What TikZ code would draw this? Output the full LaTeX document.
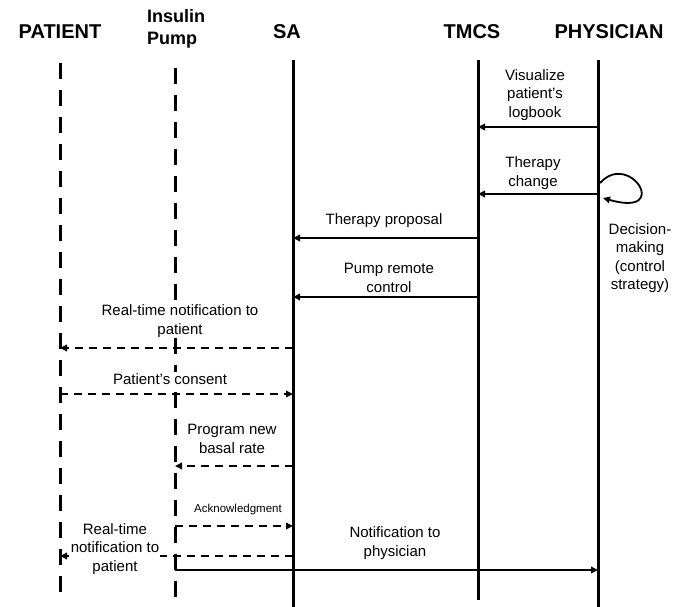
\documentclass[tikz,border=0pt]{standalone}
\usepackage{fontspec}
\setmainfont{Liberation Sans}
\usetikzlibrary{positioning,arrows.meta}

\tikzset{
  head/.style={font=\fontsize{20}{22}\selectfont\bfseries, align=center, inner sep=1pt},
  lbl/.style={font=\fontsize{15}{18.5}\selectfont, align=center, fill=white, inner sep=1pt},
  life/.style={line width=3pt},
  dlife/.style={life, dash pattern=on 16pt off 11pt},
  msg/.style={->, line width=1.8pt},
  dmsg/.style={msg, dash pattern=on 8pt off 6pt}
}

\begin{document}
\begin{tikzpicture}[x=1pt, y=-1pt, >={Triangle[length=7pt,width=6.5pt]}]
\useasboundingbox (0,0) rectangle (686,607);

% lifeline heads
\node [head] (patient) at (60,32) {PATIENT};
\node [head, align=left, font=\fontsize{18}{22}\selectfont\bfseries] (pump) at (176,29) {Insulin\\Pump};
\node [head] (sa) at (287,32) {SA};
\node [head] (tmcs) at (472,32) {TMCS};
\node [head] (phys) at (609,32) {PHYSICIAN};

% lifelines
\foreach \n/\x/\t/\b in {patient/60/63/603, pump/175/68/598, sa/293/60/607, tmcs/478/60/600, phys/598/60/607} {
  \coordinate (\n-top) at (\x,\t);
  \coordinate (\n-bot) at (\x,\b);
}
\draw [dlife] (patient-top) -- (patient-bot);
\draw [dlife] (pump-top) -- (pump-bot);
\foreach \n in {sa,tmcs,phys}
  \draw [life] (\n-top) -- (\n-bot);

% messages
\foreach \a/\b/\y/\s in {phys/tmcs/127/msg, phys/tmcs/194/msg, tmcs/sa/238/msg,
    tmcs/sa/297/msg, sa/patient/348/dmsg, patient/sa/394/dmsg, sa/pump/466/dmsg,
    pump/sa/526/dmsg, sa/patient/556/dmsg, pump/phys/570/msg}
  \draw [\s] (\a-top |- 0,\y) -- (\b-top |- 0,\y);

% self call
\coordinate (loop-a) at (600,183);
\coordinate (loop-b) at (603,198);
\draw [msg] (loop-a) .. controls (630,150) and (672,218) .. (loop-b);

% labels
\node [lbl] (visualize) at (535,95) {Visualize\\patient’s\\logbook};
\node [lbl] (change) at (533,173) {Therapy\\change};
\node [lbl] (decision) at (640,258) {Decision-\\making\\(control\\strategy)};
\node [lbl] (proposal) at (384,221) {Therapy proposal};
\node [lbl] (remote) at (389,278) {Pump remote\\control};
\node [lbl] (notify-1) at (180,321) {Real-time notification to\\patient};
\node [lbl] (consent) at (170,379) {Patient’s consent};
\node [lbl] (basal) at (232,439) {Program new\\basal rate};
\node [lbl, font=\fontsize{11.5}{14}\selectfont] (ack) at (238,510) {Acknowledgment};
\node [lbl] (notify-2) at (115,549) {Real-time\\notification to\\patient};
\node [lbl] (notify-phys) at (395,543) {Notification to\\physician};

\end{tikzpicture}
\end{document}
